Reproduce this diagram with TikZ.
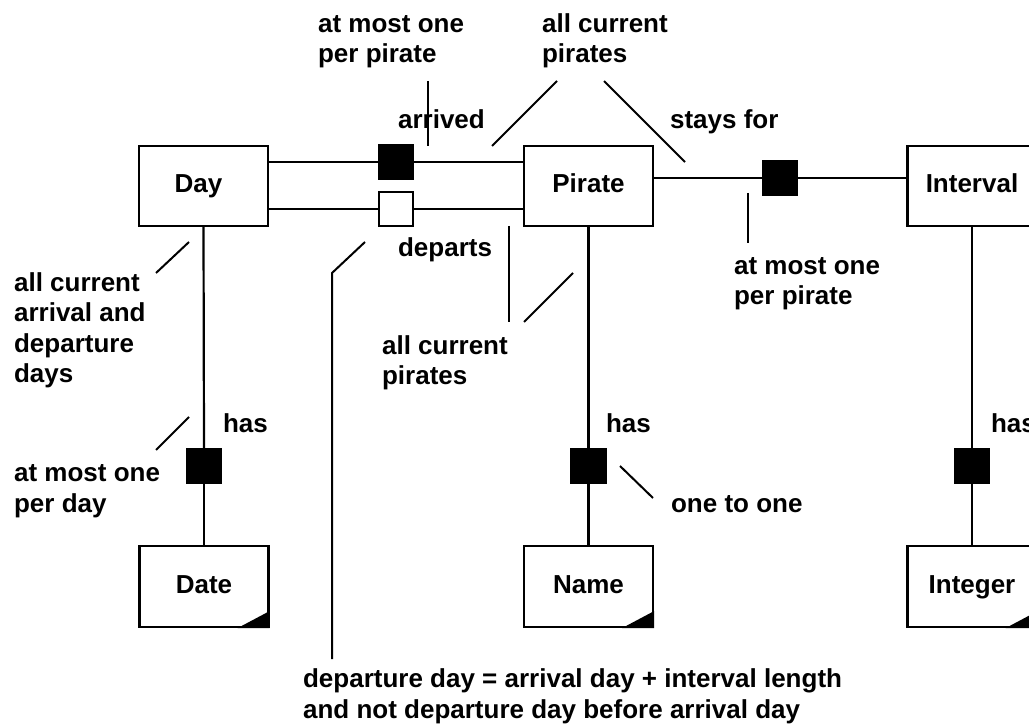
\documentclass[tikz,border=0pt]{standalone}
\usepackage{fontspec}
\setmainfont{Liberation Sans}
\begin{document}
\begin{tikzpicture}[x=1pt,y=-1pt,line width=2.2pt,
  font=\fontsize{26}{30.5}\selectfont\bfseries,
  entity/.style={draw,rectangle,minimum width=129pt,minimum height=80pt,inner sep=0pt,
    text height=18.6pt,text depth=5.5pt},
  valuebox/.style={entity,minimum height=81pt},
  role/.style={draw,rectangle,fill=black,minimum size=34pt,inner sep=0pt},
  openrole/.style={role,fill=white},
  lbl/.style={anchor=base west,inner sep=0pt,align=left},
  lead/.style={line width=2pt}]
\useasboundingbox (0,0) rectangle (1029,727);
\clip (0,0) rectangle (1029,727);

% entity types
\node[entity] (day) at (203.5,186) {\hspace*{-10pt}Day};
\node[entity] (pirate) at (588.5,186) {Pirate};
\node[entity] (interval) at (972,186) {Interval};

% value types with folded corner
\node[valuebox] (date) at (204,586.5) {Date};
\node[valuebox] (name) at (588.5,586.5) {Name};
\node[valuebox] (integer) at (972,586.5) {Integer};
\foreach \v in {date,name,integer}
  \fill ([yshift=17pt]\v.south east) -- (\v.south east) -- ([xshift=-32pt]\v.south east) -- cycle;

% role boxes
\node[role] (arr) at (396,162) {};
\node[openrole] (dep) at (396,209) {};
\node[role] (stay) at (780,178) {};
\node[role] (dayhas) at (204,466) {};
\node[role] (pirhas) at (588.5,466) {};
\node[role] (inthas) at (972,466) {};

% fact lines
\draw (day.east |- arr.center) -- (arr.west);
\draw (arr.east) -- (pirate.west |- arr.center);
\draw (day.east |- dep.center) -- (dep.west);
\draw (dep.east) -- (pirate.west |- dep.center);
\draw (pirate.east |- stay.center) -- (stay.west);
\draw (stay.east) -- (interval.west |- stay.center);
\draw (day.south) -- (dayhas.north);
\draw (dayhas.south) -- (date.north);
\draw (pirate.south) -- (pirhas.north);
\draw (pirhas.south) -- (name.north);
\draw (interval.south) -- (inthas.north);
\draw (inthas.south) -- (integer.north);

% fact names
\node[lbl] (tarr) at (397,129) {arrived};
\node[lbl] (tstay) at (669,129) {stays for};
\node[lbl] (tdep) at (397,257) {departs};
\node[lbl] (thas1) at (222,433) {has};
\node[lbl] (thas2) at (605,433) {has};
\node[lbl] (thas3) at (990,433) {has};

% constraint notes (positioned by the baseline of their last line)
\node[lbl] (c1) at (317,63) {at most one\\per pirate};
\node[lbl] (c2) at (541,63) {all current\\pirates};
\node[lbl] (c3) at (733,305) {at most one\\per pirate};
\node[lbl] (c4) at (13,383) {all current\\arrival and\\departure\\days};
\node[lbl] (c5) at (381,385) {all current\\pirates};
\node[lbl] (c6) at (13,512) {at most one\\per day};
\node[lbl] (c7) at (670,512) {one to one};
\node[lbl] (c8) at (302,718) {departure day = arrival day + interval length\\and not departure day before arrival day};

% leader lines
\coordinate (a1) at (428,81);  \coordinate (a2) at (428,146);
\coordinate (b1) at (557,81);  \coordinate (b2) at (492,146);
\coordinate (b3) at (604,81);  \coordinate (b4) at (685,162);
\coordinate (d1) at (748,193); \coordinate (d2) at (748,243);
\coordinate (e1) at (189,242); \coordinate (e2) at (156,273);
\coordinate (f1) at (365,242); \coordinate (f2) at (332,273); \coordinate (f3) at (332,659);
\coordinate (g1) at (509,226); \coordinate (g2) at (509,322);
\coordinate (h1) at (573,273); \coordinate (h2) at (524,322);
\coordinate (k1) at (189,417); \coordinate (k2) at (156,450);
\coordinate (m1) at (620,466); \coordinate (m2) at (653,498);
\draw[lead] (a1) -- (a2);
\draw[lead] (b1) -- (b2);
\draw[lead] (b3) -- (b4);
\draw[lead] (d1) -- (d2);
\draw[lead] (e1) -- (e2);
\draw[lead] (f1) -- (f2) -- (f3);
\draw[lead] (g1) -- (g2);
\draw[lead] (h1) -- (h2);
\draw[lead] (k1) -- (k2);
\draw[lead] (m1) -- (m2);
\end{tikzpicture}
\end{document}
